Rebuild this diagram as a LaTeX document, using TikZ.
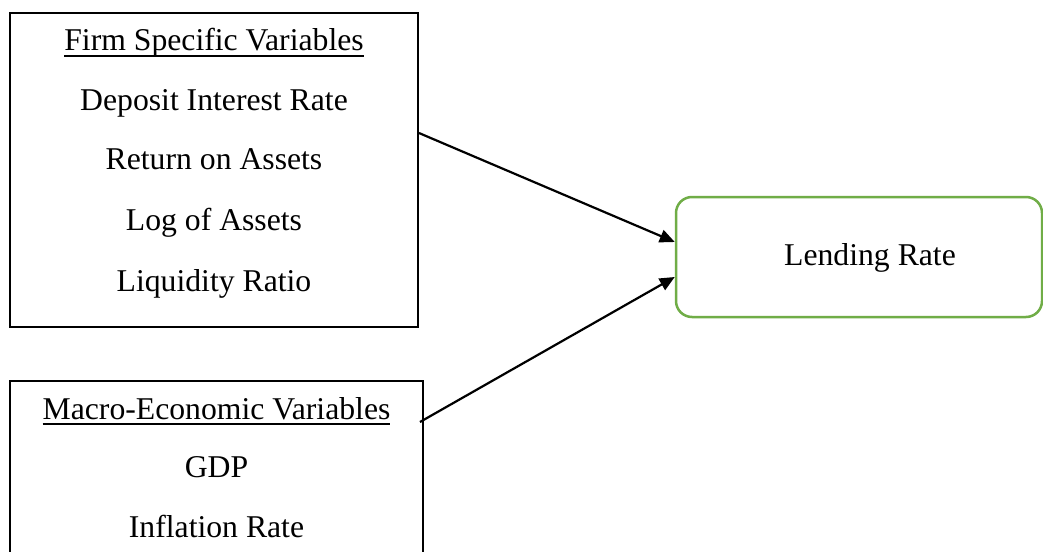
\documentclass[tikz,border=0pt]{standalone}
\usepackage{fontspec}
\setmainfont{Liberation Serif}
\usetikzlibrary{arrows.meta}
\definecolor{wordgreen}{RGB}{112,173,71}
\newcommand\myul[1]{\setbox0\hbox{#1}\rlap{\rule[-6.2pt]{\wd0}{1.9pt}}\box0}
\begin{document}
\begin{tikzpicture}[x=1pt,y=-1pt,
  box/.style={draw=black, line width=1.9pt, rectangle, inner sep=0pt},
  lendbox/.style={draw=wordgreen, line width=2.5pt, rectangle, rounded corners=16pt, inner sep=0pt,
     minimum width=366pt, minimum height=120pt},
  txt/.style={anchor=base, inner sep=0pt, font=\fontsize{31.7}{38}\selectfont},
  arr/.style={line width=2.2pt, -{Triangle[length=15pt,width=13pt]}}]
\useasboundingbox (0,0) rectangle (1043,551);
\clip (0,0) rectangle (1043,551);
\fill[white] (0,0) rectangle (1043,551);
% boxes
\node[box, minimum width=408pt, minimum height=314pt] (firm) at (214,170) {};
\node[box, minimum width=413pt, minimum height=240pt] (macro) at (216.5,501) {};
\node[lendbox] (lend) at (859,257) {};
% texts
\node[txt] (t1) at (214,51) {\myul{Firm Specific Variables}};
\node[txt] (t2) at (214,110) {Deposit Interest Rate};
\node[txt] (t3) at (214,169) {Return on Assets};
\node[txt] (t4) at (214,230) {Log of Assets};
\node[txt] (t5) at (214,291.5) {Liquidity Ratio};
\node[txt] (m1) at (216.5,419) {\myul{Macro-Economic Variables}};
\node[txt] (m2) at (216.5,477) {GDP};
\node[txt] (m3) at (216.5,537) {Inflation Rate};
\node[txt] (l1) at (870,265) {Lending Rate};
% connectors
\draw[arr] ([yshift=37pt]firm.east) -- ([yshift=15pt]lend.west);
\draw[arr] ([xshift=-4pt,yshift=79pt]macro.east) -- ([yshift=-20pt]lend.west);
\end{tikzpicture}
\end{document}
